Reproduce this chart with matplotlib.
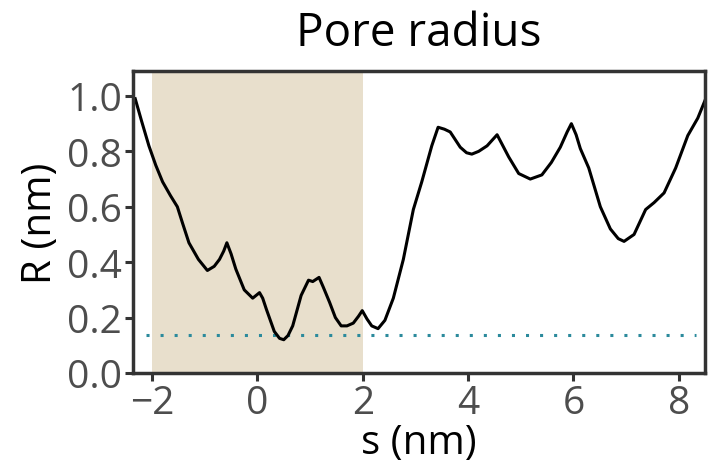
import matplotlib.pyplot as plt

# pore profile
s_nm = [-2.32, -2.2, -2.06, -1.93, -1.80, -1.65, -1.52, -1.42, -1.30, -1.12, -0.95, -0.82, -0.72, -0.64,
        -0.58, -0.50, -0.41, -0.25, -0.09, 0.04, 0.10, 0.17, 0.32, 0.42, 0.50, 0.58, 0.67, 0.83, 0.97,
        1.05, 1.17, 1.25, 1.37, 1.48, 1.59, 1.70, 1.82, 1.92, 1.99, 2.08, 2.17, 2.29, 2.42, 2.58, 2.77,
        2.96, 3.12, 3.31, 3.43, 3.55, 3.66, 3.85, 3.97, 4.07, 4.20, 4.36, 4.55, 4.66, 4.77, 4.96, 5.18,
        5.40, 5.58, 5.75, 5.88, 5.96, 6.05, 6.13, 6.29, 6.51, 6.70, 6.85, 6.96, 7.15, 7.37, 7.53, 7.72,
        7.94, 8.17, 8.36, 8.51]
R_nm = [0.99, 0.91, 0.82, 0.75, 0.69, 0.64, 0.60, 0.54, 0.47, 0.41, 0.37, 0.385, 0.41, 0.44,
        0.47, 0.43, 0.375, 0.30, 0.27, 0.29, 0.27, 0.23, 0.15, 0.125, 0.12, 0.135, 0.17, 0.28, 0.335,
        0.33, 0.345, 0.31, 0.255, 0.20, 0.17, 0.17, 0.18, 0.205, 0.225, 0.195, 0.17, 0.16, 0.19, 0.27, 0.41,
        0.59, 0.69, 0.82, 0.887, 0.88, 0.87, 0.815, 0.795, 0.79, 0.80, 0.82, 0.86, 0.82, 0.78, 0.72, 0.70,
        0.715, 0.76, 0.815, 0.87, 0.90, 0.86, 0.81, 0.74, 0.60, 0.52, 0.485, 0.475, 0.50, 0.59, 0.615, 0.65,
        0.74, 0.857, 0.92, 0.99]

shade_start, shade_end = -2, 2
threshold = 0.138
thr_from, thr_to = -2.12, 8.32

plt.rcParams['font.family'] = ['Open Sans', 'DejaVu Sans']

fig = plt.figure(figsize=(7.08, 4.77), dpi=100)
ax = fig.add_axes([0.188, 0.216, 0.808, 0.633])

ax.axvspan(shade_start, shade_end, color='#e8dfcc', lw=0, zorder=0)
ax.plot([thr_from, thr_to], [threshold, threshold], color='#2b8a9c', lw=2.2, ls=(0, (1, 3.6)), zorder=1)
ax.plot(s_nm, R_nm, color='black', lw=2.2, zorder=2, solid_joinstyle='round')

ax.set_xlim(-2.36, 8.5)
ax.set_ylim(0, 1.09)
ax.set_xticks([-2, 0, 2, 4, 6, 8])
ax.set_yticks([0.0, 0.2, 0.4, 0.6, 0.8, 1.0])
ax.set_yticklabels(['0.0', '0.2', '0.4', '0.6', '0.8', '1.0'])
ax.set_xticklabels(['\u22122', '0', '2', '4', '6', '8'])

for sp in ax.spines.values():
    sp.set_color('#333333')
    sp.set_linewidth(2.5)
ax.tick_params(colors='#333333', width=2.2, length=6, labelsize=28, labelcolor='#4d4d4d', pad=2)

ax.set_xlabel('s (nm)', fontsize=29, labelpad=0)
ax.set_ylabel('R (nm)', fontsize=29, labelpad=4)
ax.set_title('Pore radius', fontsize=33, pad=19)

fig.savefig('out.png', dpi=100)
